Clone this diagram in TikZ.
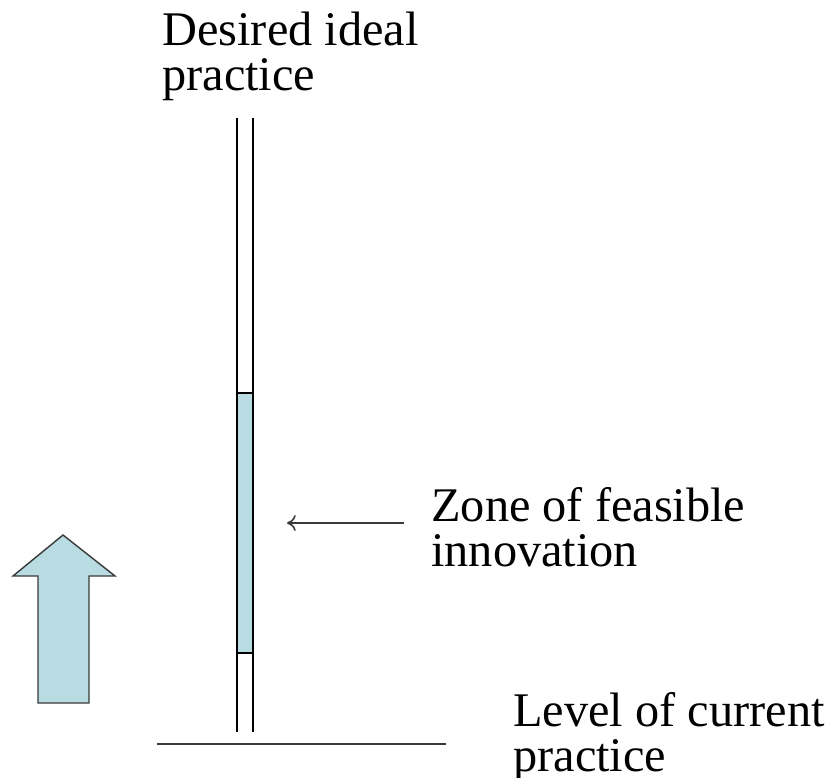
\documentclass[tikz,border=0pt]{standalone}
\usepackage{fontspec}
\setmainfont{Liberation Serif}
\usetikzlibrary{arrows.meta}
\definecolor{zonefill}{HTML}{B8DCE2}
\definecolor{edgegray}{HTML}{3A3A3A}
\tikzset{
  lbl/.style={anchor=north west, inner sep=0pt, align=left, font=\fontsize{27.5}{25.5}\selectfont},
  tube/.style={line width=1.1pt},
  pointer/.style={line width=0.9pt, -{To[length=5pt,width=9pt]}},
}
\begin{document}
\begin{tikzpicture}[x=0.02cm, y=-0.02cm]
  \useasboundingbox (0,0) rectangle (829,778);

  % Textos
  \node[lbl] (ideal) at (162,12) {Desired ideal\\practice};
  \node[lbl] (zonetext) at (431,487) {Zone of feasible\\innovation};
  \node[lbl] (current) at (513,692) {Level of current\\practice};

  % Zona
  \fill[zonefill] (237,393) rectangle (253,653);
  \draw[tube] (237,393) -- (253,393);
  \draw[tube] (237,653) -- (253,653);

  % Tubo
  \foreach \x in {237,253} {
    \draw[tube] (\x,118) -- (\x,732);
  }

  % Nivel actual
  \coordinate (levelL) at (157,744);
  \coordinate (levelR) at (446,744);
  \draw[line width=1pt, edgegray] (levelL) -- (levelR);

  % Flecha
  \coordinate (pfrom) at (404,523);
  \coordinate (pto) at (287,523);
  \draw[pointer, edgegray] (pfrom) -- (pto);

  % Flecha grande
  \draw[fill=zonefill, draw=edgegray, line width=0.8pt]
    (63,535) -- (115,576) -- (89,576) -- (89,703) -- (38,703) -- (38,576) -- (13,576) -- cycle;
\end{tikzpicture}
\end{document}
